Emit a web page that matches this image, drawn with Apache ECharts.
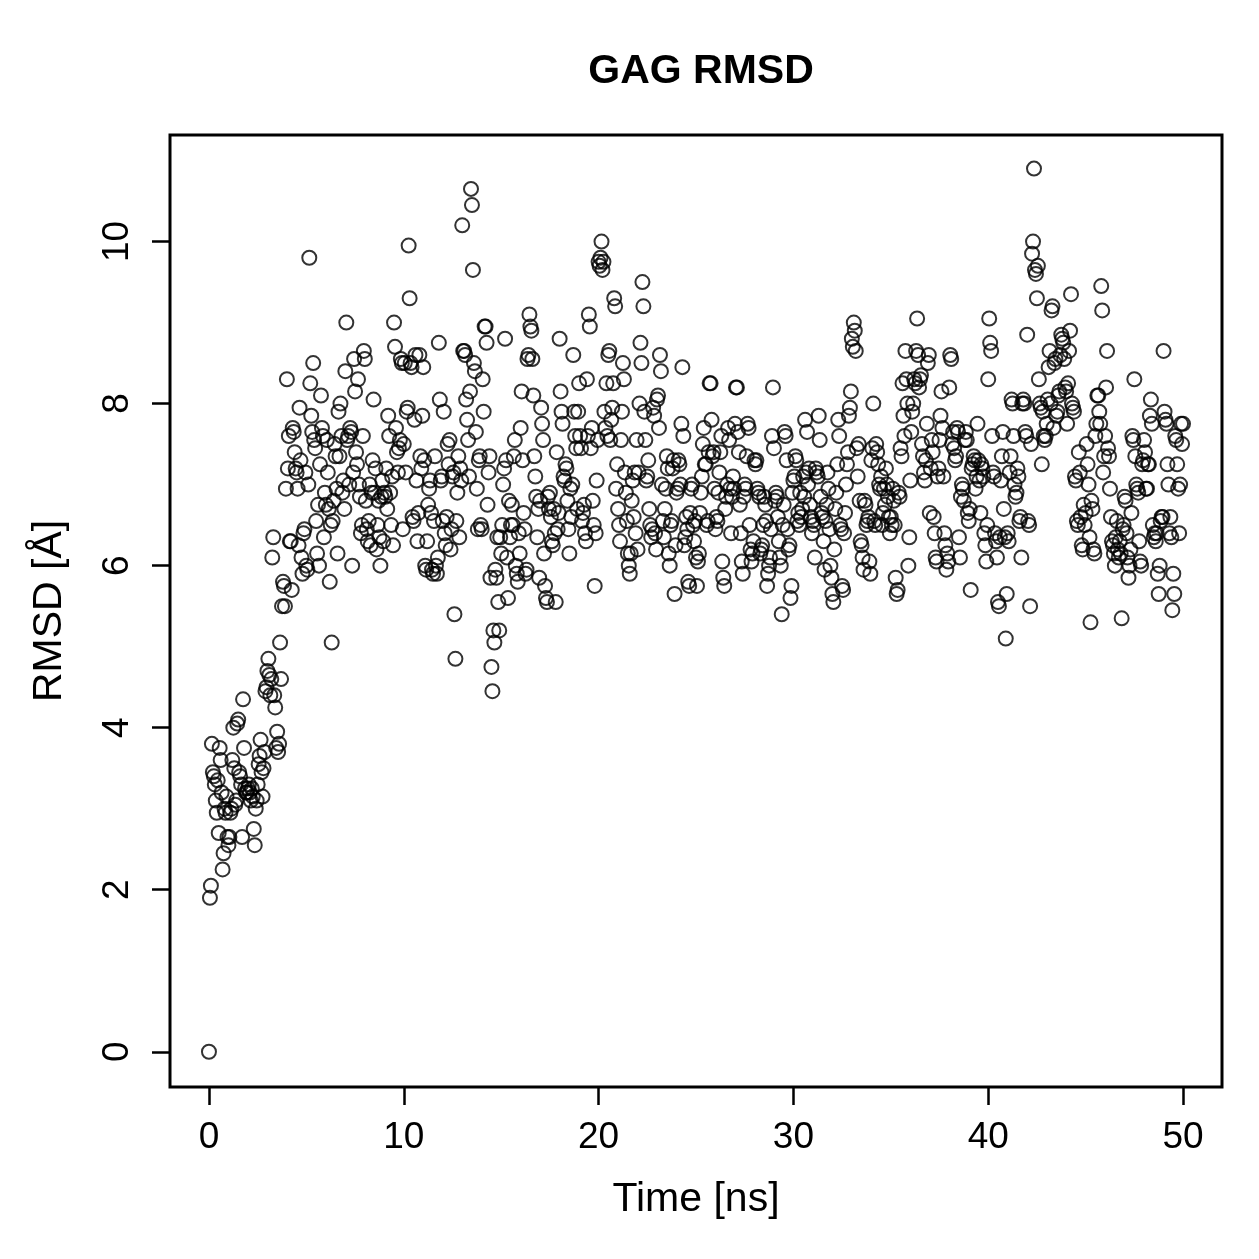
<!DOCTYPE html>
<html>
<head>
<meta charset="utf-8">
<title>GAG RMSD</title>
<script src="https://cdn.jsdelivr.net/npm/echarts@6/dist/echarts.min.js"></script>
<style>
  html, body { margin: 0; padding: 0; background: #fff; }
  #chart { width: 1259px; height: 1259px; }
</style>
</head>
<body>
<div id="chart"></div>
<script>
// 图表数据：每帧 0.05 ns，共 1001 帧
const timeStep = 0.05;
const xTicks = [0, 10, 20, 30, 40, 50];
const yTicks = [0, 2, 4, 6, 8, 10];

// RMSD 值，每行 1 ns（20 帧）
const rmsd = [
  0, 1.9, 2.05, 3.8, 3.45, 3.4, 3.3, 3.1, 2.95, 3.35, 2.7, 3.75, 3.6, 3.2, 2.25, 2.45, 3.0, 2.95, 3.15, 2.65,
  2.55, 2.65, 2.95, 3.0, 3.6, 4.0, 3.5, 3.05, 3.1, 4.05, 4.1, 3.45, 3.4, 3.3, 2.65, 4.35, 3.75, 3.25, 3.2, 3.2,
  3.25, 3.3, 3.2, 3.1, 3.25, 3.15, 2.75, 2.55, 3.0, 3.1, 3.3, 3.55, 3.65, 3.85, 3.45, 3.15, 3.5, 3.7, 4.45, 4.5,
  4.7, 4.85, 4.65, 4.4, 4.6, 6.1, 6.35, 4.4, 4.25, 3.75, 3.95, 3.7, 3.8, 5.05, 4.6, 5.5, 5.8, 5.75, 5.5, 6.95,
  8.3, 7.2, 7.6, 6.3, 6.3, 5.7, 7.7, 7.65, 7.4, 7.2, 7.15, 6.95, 6.25, 7.95, 7.3, 6.1, 5.9, 6.4, 6.45, 7.15,
  6.0, 5.95, 7.0, 9.8, 8.25, 7.85, 7.65, 8.5, 7.55, 7.45, 6.55, 6.15, 6.75, 6.0, 7.25, 8.1, 7.7, 7.6, 6.35, 6.9,
  6.75, 7.55, 7.15, 6.7, 5.8, 6.5, 5.05, 6.55, 6.8, 7.5, 7.35, 6.95, 6.15, 7.9, 7.35, 8.0, 7.6, 6.9, 7.05, 6.7,
  8.4, 9.0, 7.55, 7.6, 7.0, 7.7, 7.65, 6.0, 7.15, 8.55, 8.15, 7.4, 7.25, 8.3, 7.0, 6.85, 6.4, 6.5, 7.6, 8.65,
  8.55, 6.8, 6.45, 6.3, 6.55, 7.0, 6.25, 6.9, 7.3, 8.05, 6.9, 7.2, 6.2, 6.5, 6.8, 6.35, 6.0, 6.85, 7.05, 6.3,
  6.9, 6.85, 7.2, 6.7, 7.85, 7.6, 6.9, 6.5, 7.1, 6.25, 9.0, 8.7, 7.7, 7.4, 7.15, 7.45, 7.55, 8.55, 8.5, 6.45,
  7.5, 8.5, 7.15, 7.9, 7.95, 9.95, 9.3, 8.5, 8.45, 6.6, 6.55, 7.8, 8.6, 7.05, 6.3, 6.65, 8.6, 7.35, 7.2, 7.85,
  8.45, 7.3, 6.0, 5.95, 6.3, 6.75, 6.95, 7.05, 6.65, 5.95, 5.9, 6.55, 7.35, 6.0, 5.9, 6.1, 8.75, 8.05, 7.05, 7.1,
  6.55, 7.9, 6.4, 6.25, 6.6, 7.5, 7.25, 7.55, 6.2, 6.45, 7.1, 7.15, 5.4, 4.85, 6.55, 6.9, 7.35, 6.35, 7.2, 7.05,
  10.2, 8.65, 8.65, 8.6, 8.05, 7.8, 7.55, 7.1, 8.15, 10.65, 10.45, 9.65, 8.5, 8.4, 7.65, 6.95, 6.45, 7.3, 7.35, 6.5,
  6.45, 8.3, 7.9, 8.95, 8.95, 8.75, 6.75, 7.15, 7.35, 5.85, 4.75, 4.45, 5.2, 5.05, 5.95, 5.85, 6.35, 5.55, 5.2, 6.35,
  6.15, 6.5, 7.0, 7.2, 8.8, 7.3, 6.1, 5.6, 6.8, 6.35, 6.5, 6.75, 6.5, 7.35, 7.55, 6.0, 5.9, 5.8, 6.4, 6.15,
  7.7, 8.15, 7.3, 6.65, 6.45, 5.9, 5.95, 8.55, 8.6, 9.1, 8.95, 8.9, 8.55, 8.1, 7.35, 7.1, 6.85, 6.35, 6.7, 5.85,
  6.8, 7.95, 7.75, 7.55, 6.15, 5.75, 5.6, 5.55, 6.85, 6.7, 6.9, 6.6, 6.3, 6.25, 6.7, 6.4, 5.55, 7.4, 6.45, 6.65,
  8.8, 8.15, 7.9, 7.75, 7.1, 7.05, 7.25, 7.2, 6.8, 6.45, 6.15, 6.95, 6.6, 7.0, 8.6, 7.9, 7.6, 7.45, 6.7, 7.9,
  8.25, 7.6, 7.45, 6.55, 6.65, 6.75, 6.4, 6.3, 8.3, 7.6, 9.1, 8.95, 7.45, 7.7, 6.8, 6.5, 5.75, 6.4, 7.05, 7.55,
  9.75, 9.7, 9.8, 10.0, 9.65, 9.75, 7.9, 7.7, 8.25, 7.6, 8.6, 8.65, 7.55, 7.8, 7.95, 8.25, 9.3, 9.2, 6.95, 7.25,
  6.7, 6.5, 6.3, 7.55, 7.9, 8.5, 8.3, 7.15, 6.9, 6.55, 6.15, 6.0, 5.9, 6.15, 6.8, 7.05, 6.6, 7.15, 6.4, 7.55,
  6.2, 7.15, 8.0, 8.75, 8.5, 9.5, 9.2, 7.9, 7.55, 7.05, 7.1, 7.3, 6.7, 6.5, 6.35, 6.45, 7.95, 7.85, 6.4, 6.2,
  8.05, 8.1, 7.7, 8.6, 8.4, 7.0, 6.55, 6.35, 6.7, 6.95, 7.35, 7.2, 6.15, 6.0, 6.5, 6.55, 7.2, 7.3, 5.65, 6.25,
  6.9, 6.95, 7.3, 7.25, 7.0, 7.75, 8.45, 7.6, 6.25, 6.35, 6.6, 6.45, 5.8, 5.75, 6.65, 6.95, 7.0, 6.5, 6.3, 6.55,
  6.1, 5.75, 6.05, 6.15, 6.65, 6.9, 7.1, 7.5, 7.7, 7.25, 7.25, 6.5, 6.55, 7.4, 8.25, 8.25, 7.8, 7.35, 7.4, 6.95,
  6.45, 6.6, 6.55, 6.9, 7.15, 7.4, 7.6, 6.05, 5.85, 5.75, 6.7, 6.85, 7.0, 7.7, 7.55, 6.95, 6.4, 6.85, 7.1, 6.95,
  7.75, 8.2, 8.2, 7.65, 7.4, 6.75, 6.4, 6.05, 5.9, 6.85, 7.0, 6.95, 7.35, 7.75, 7.7, 6.5, 6.2, 6.05, 6.15, 6.3,
  7.3, 7.25, 7.3, 6.95, 6.9, 6.85, 6.15, 6.2, 6.25, 6.5, 6.85, 6.75, 6.55, 5.75, 5.9, 6.0, 6.1, 6.45, 7.6, 8.2,
  7.45, 6.8, 6.9, 6.85, 6.6, 6.3, 6.1, 6.0, 5.4, 6.5, 6.75, 7.65, 7.6, 7.3, 6.45, 6.2, 6.25, 5.6, 5.75, 6.9,
  7.05, 7.1, 7.35, 7.3, 6.55, 6.65, 6.5, 6.9, 6.6, 6.7, 7.1, 6.85, 7.8, 7.15, 7.65, 7.0, 7.2, 6.75, 6.6, 6.4,
  6.55, 6.5, 6.1, 7.2, 7.15, 7.1, 7.85, 7.55, 6.85, 6.65, 6.6, 6.3, 5.95, 6.55, 6.75, 7.15, 6.95, 6.45, 6.0, 5.85,
  5.65, 5.55, 6.2, 6.7, 6.9, 7.25, 7.8, 7.6, 6.5, 6.45, 5.75, 5.7, 6.4, 6.65, 7.0, 7.25, 7.4, 7.85, 7.95, 8.15,
  8.8, 8.7, 9.0, 8.9, 8.65, 7.45, 7.1, 7.5, 6.8, 6.3, 6.25, 6.1, 5.95, 6.8, 6.75, 6.5, 6.55, 6.6, 6.05, 5.9,
  7.3, 7.45, 8.0, 6.55, 6.5, 7.5, 7.4, 7.25, 7.0, 6.95, 7.1, 6.5, 6.65, 6.95, 6.75, 7.2, 7.0, 6.85, 6.6, 6.4,
  6.6, 6.5, 6.95, 6.8, 6.5, 5.85, 5.65, 5.7, 6.9, 6.85, 7.45, 7.35, 8.25, 7.85, 7.6, 8.65, 8.3, 8.0, 6.0, 6.35,
  7.05, 7.65, 7.9, 8.0, 8.3, 8.25, 8.65, 9.05, 8.6, 8.2, 8.3, 8.35, 7.5, 7.35, 7.15, 7.05, 7.3, 7.75, 8.5, 8.6,
  6.65, 7.2, 7.55, 7.4, 6.6, 6.4, 6.1, 6.05, 7.1, 7.2, 7.55, 7.85, 8.15, 7.7, 7.1, 6.4, 6.25, 5.95, 6.15, 6.05,
  8.2, 8.6, 8.55, 7.5, 7.65, 7.45, 7.3, 7.35, 7.7, 7.65, 6.35, 6.1, 6.85, 7.0, 6.95, 6.8, 7.55, 7.65, 7.55, 6.65,
  6.55, 6.7, 5.7, 7.2, 7.25, 7.35, 7.3, 6.95, 7.1, 7.75, 7.3, 7.05, 6.65, 7.25, 7.2, 7.1, 6.4, 6.25, 6.05, 6.5,
  8.3, 9.05, 8.75, 8.65, 7.6, 7.15, 7.1, 6.4, 6.3, 6.1, 5.55, 5.5, 6.35, 7.05, 7.35, 7.65, 6.7, 6.35, 5.1, 5.65,
  6.4, 6.3, 7.15, 7.35, 8.05, 8.0, 7.6, 7.0, 6.85, 6.9, 7.2, 7.1, 6.55, 6.6, 6.1, 8.0, 8.05, 8.0, 7.65, 7.6,
  8.85, 6.55, 6.5, 5.5, 7.5, 9.85, 10.0, 10.9, 9.65, 9.6, 9.3, 9.7, 8.3, 8.0, 7.95, 7.25, 7.9, 7.6, 7.55, 7.6,
  7.75, 8.05, 8.45, 8.65, 8.0, 9.15, 9.2, 7.7, 8.5, 8.55, 7.85, 7.9, 8.1, 8.15, 8.6, 8.85, 8.8, 8.75, 8.55, 8.2,
  8.15, 7.75, 8.25, 8.65, 8.9, 9.35, 8.0, 7.95, 7.9, 7.1, 7.05, 6.55, 6.5, 7.4, 7.15, 6.6, 6.25, 6.2, 6.75, 6.5,
  6.65, 7.5, 7.25, 7.0, 6.35, 5.3, 6.8, 6.7, 6.2, 6.15, 7.6, 7.75, 8.1, 8.1, 7.9, 7.75, 9.45, 9.15, 7.15, 7.35,
  7.6, 8.2, 8.65, 7.45, 7.35, 6.95, 6.6, 6.3, 6.25, 6.15, 6.0, 6.35, 6.55, 6.2, 6.1, 6.3, 6.15, 5.35, 6.45, 6.5,
  6.85, 6.8, 6.4, 6.1, 5.85, 6.0, 6.2, 6.65, 7.6, 7.55, 8.3, 7.35, 7.0, 6.95, 6.9, 6.3, 6.05, 6.0, 7.25, 7.3,
  7.55, 7.4, 6.95, 6.95, 7.25, 7.25, 7.85, 8.05, 7.75, 6.5, 6.35, 6.4, 6.3, 6.4, 5.9, 5.65, 6.0, 6.55, 6.6, 6.6,
  8.65, 7.9, 7.8, 7.75, 7.25, 7.0, 6.4, 6.6, 6.35, 5.45, 5.9, 5.65, 7.6, 7.55, 7.25, 6.95, 6.4, 7.0, 7.75, 7.5,
  7.75
];

const font = '"Liberation Sans", Arial, Helvetica, sans-serif';

const chart = echarts.init(document.getElementById('chart'));

const option = {
  backgroundColor: '#fff',
  animation: false,
  title: {
    text: 'GAG RMSD',
    left: 696,
    top: 46,
    textAlign: 'center',
    textStyle: { fontFamily: font, fontSize: 41, fontWeight: 'bold', color: '#000' }
  },
  grid: {
    left: 170,
    top: 135,
    right: 37,
    bottom: 172,
    show: true,
    borderColor: '#000',
    borderWidth: 3,
    backgroundColor: 'transparent'
  },
  xAxis: {
    type: 'value',
    min: -2,
    max: 52,
    name: 'Time [ns]',
    nameLocation: 'middle',
    nameGap: 92,
    nameTextStyle: { fontFamily: font, fontSize: 41, color: '#000' },
    axisLine: { show: false, onZero: false },
    splitLine: { show: false },
    axisTick: {
      show: true,
      inside: false,
      customValues: xTicks,
      length: 18,
      lineStyle: { color: '#000', width: 2.5 }
    },
    axisLabel: {
      customValues: xTicks,
      margin: 32,
      fontFamily: font,
      fontSize: 37,
      color: '#000'
    }
  },
  yAxis: {
    type: 'value',
    min: -0.435,
    max: 11.315,
    name: 'RMSD [Å]',
    nameLocation: 'middle',
    nameGap: 100,
    nameTextStyle: { fontFamily: font, fontSize: 41, color: '#000' },
    axisLine: { show: false, onZero: false },
    splitLine: { show: false },
    axisTick: {
      show: true,
      inside: false,
      customValues: yTicks,
      length: 18,
      lineStyle: { color: '#000', width: 2.5 }
    },
    axisLabel: {
      customValues: yTicks,
      rotate: 90,
      margin: 34,
      fontFamily: font,
      fontSize: 37,
      color: '#000'
    }
  },
  series: [{
    type: 'scatter',
    data: rmsd.map((v, i) => [i * timeStep, v]),
    symbol: 'circle',
    symbolSize: 14,
    itemStyle: {
      color: 'rgba(0,0,0,0)',
      borderColor: '#000',
      borderWidth: 2
    },
    emphasis: { disabled: true }
  }]
};

chart.setOption(option);
</script>
</body>
</html>
